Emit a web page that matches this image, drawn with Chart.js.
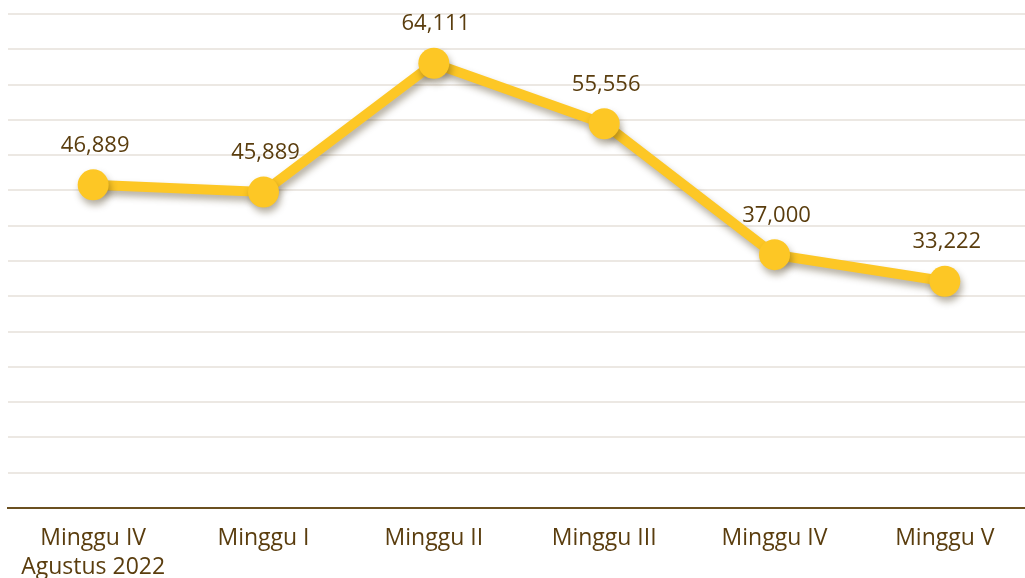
<!DOCTYPE html>
<html>
<head>
<meta charset="utf-8">
<script src="https://cdn.jsdelivr.net/npm/chart.js@4/dist/chart.umd.min.js"></script>
<style>
  html, body { margin: 0; padding: 0; background: #ffffff; overflow: hidden; }
  #wrap { position: absolute; left: 0; top: 0; width: 1030px; height: 578px; }
</style>
</head>
<body>
<div id="wrap"><canvas id="c"></canvas></div>
<script>
const categories = [
  ["Minggu IV", "Agustus 2022"],
  "Minggu I",
  "Minggu II",
  "Minggu III",
  "Minggu IV",
  "Minggu V"
];
const values = [46889, 45889, 64111, 55556, 37000, 33222];
const valueLabels = ["46,889", "45,889", "64,111", "55,556", "37,000", "33,222"];

const BROWN = '#5a3d0e';
const YELLOW = '#fdc725';

const shadowPlugin = {
  id: 'shadowPlugin',
  beforeDatasetsDraw(chart) {
    const ctx = chart.ctx;
    ctx.save();
    ctx.shadowColor = 'rgba(60,45,10,0.38)';
    ctx.shadowBlur = 7;
    ctx.shadowOffsetX = 2;
    ctx.shadowOffsetY = 5;
  },
  afterDatasetsDraw(chart) {
    chart.ctx.restore();
  }
};

const labelPlugin = {
  id: 'labelPlugin',
  afterDatasetsDraw(chart) {
    const ctx = chart.ctx;
    const meta = chart.getDatasetMeta(0);
    ctx.save();
    ctx.font = '22px "Open Sans"';
    ctx.fillStyle = BROWN;
    ctx.textAlign = 'center';
    ctx.textBaseline = 'alphabetic';
    meta.data.forEach((pt, i) => {
      ctx.fillText(valueLabels[i], pt.x + 2, pt.y - 33);
    });
    ctx.restore();
  }
};

new Chart(document.getElementById('c'), {
  type: 'line',
  data: {
    labels: categories,
    datasets: [{
      data: values,
      borderColor: YELLOW,
      backgroundColor: YELLOW,
      borderWidth: 10,
      pointRadius: 15.5,
      pointHoverRadius: 15.5,
      pointBorderWidth: 0,
      pointBackgroundColor: YELLOW,
      tension: 0,
      fill: false,
      clip: false
    }]
  },
  options: {
    responsive: true,
    maintainAspectRatio: false,
    animation: false,
    events: [],
    layout: { autoPadding: false, padding: { left: 8, right: 0, top: 14, bottom: 0 } },
    plugins: {
      legend: { display: false },
      tooltip: { enabled: false },
      title: { display: false }
    },
    scales: {
      x: {
        offset: true,
        grid: { display: false, drawTicks: false },
        border: { display: true, color: '#6b5020', width: 2 },
        ticks: {
          color: BROWN,
          font: { family: '"Open Sans"', size: 23, lineHeight: 1.27 },
          padding: 16,
          maxRotation: 0,
          autoSkip: false
        },
        afterFit(scale) {
          scale.paddingLeft = 0;
          scale.paddingRight = 0;
          scale.height = 70;
        }
      },
      y: {
        min: 1100,
        max: 71100,
        ticks: { display: false, stepSize: 5000 },
        grid: { color: '#ece8e3', lineWidth: 2, drawTicks: false },
        border: { display: false },
        afterFit(scale) {
          scale.width = 0;
        }
      }
    }
  },
  plugins: [shadowPlugin, labelPlugin]
});
</script>
</body>
</html>
